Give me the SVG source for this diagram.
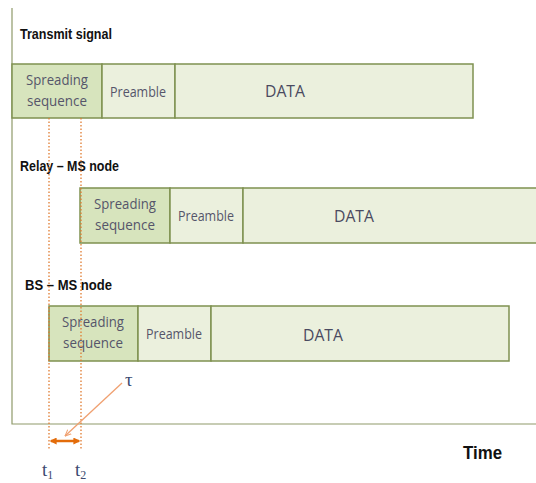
<svg xmlns="http://www.w3.org/2000/svg" width="536" height="483" viewBox="0 0 536 483">
<style>
.title{font-family:"Liberation Sans",Arial,sans-serif;font-weight:bold;font-size:15px;fill:#111}
.cell{stroke:#7f9150;stroke-width:1.5}
.ss{fill:#d7e4bd}
.pl{fill:#ebf0dd}
.lbl{font-family:"Open Sans","Noto Sans",sans-serif;font-size:14px;fill:#55556a;text-anchor:middle}
.data{font-family:"Open Sans","Noto Sans",sans-serif;font-size:17px;fill:#4a4a60;text-anchor:middle}
.dot{stroke:#e07b30;stroke-width:1.3;stroke-dasharray:1.5 2;fill:none}
.math{font-family:"Liberation Serif","DejaVu Serif",serif;font-size:19px;fill:#3c4a70}
</style>
<defs>
<marker id="ah" viewBox="0 0 10 10" refX="9" refY="5" markerWidth="7" markerHeight="7" orient="auto-start-reverse" markerUnits="userSpaceOnUse">
<path d="M0,1 L9,5 L0,9" fill="none" stroke="#f0a070" stroke-width="1.5"/>
</marker>
<marker id="dh" viewBox="0 0 10 10" refX="8" refY="5" markerWidth="7" markerHeight="7" orient="auto-start-reverse" markerUnits="userSpaceOnUse">
<path d="M0,0 L10,5 L0,10 Z" fill="#e36c0a"/>
</marker>
</defs>
<rect width="536" height="483" fill="#ffffff"/>
<g id="frame">
<path d="M12,8 V424 H536" fill="none" stroke="#8f9a6a" stroke-width="1.2"/>
</g>
<g id="transmit">
<text class="title" x="20" y="39" textLength="92" lengthAdjust="spacingAndGlyphs">Transmit signal</text>
<rect class="cell ss" x="12" y="64" width="90" height="54"/>
<rect class="cell pl" x="102" y="64" width="73" height="54"/>
<rect class="cell pl" x="175" y="64" width="298" height="54"/>
<text class="lbl" x="57" y="85" textLength="62" lengthAdjust="spacingAndGlyphs">Spreading</text>
<text class="lbl" x="57" y="106" textLength="60" lengthAdjust="spacingAndGlyphs">sequence</text>
<text class="lbl" x="138" y="97" textLength="56" lengthAdjust="spacingAndGlyphs">Preamble</text>
<text class="data" x="285" y="97" textLength="40" lengthAdjust="spacingAndGlyphs">DATA</text>
</g>
<g id="relay">
<text class="title" x="20" y="171" textLength="99" lengthAdjust="spacingAndGlyphs">Relay – MS node</text>
<rect class="cell ss" x="80" y="188" width="90" height="55"/>
<rect class="cell pl" x="170" y="188" width="73" height="55"/>
<rect class="cell pl" x="243" y="188" width="300" height="55"/>
<text class="lbl" x="125" y="209" textLength="62" lengthAdjust="spacingAndGlyphs">Spreading</text>
<text class="lbl" x="125" y="230" textLength="60" lengthAdjust="spacingAndGlyphs">sequence</text>
<text class="lbl" x="206" y="221" textLength="56" lengthAdjust="spacingAndGlyphs">Preamble</text>
<text class="data" x="354" y="222" textLength="40" lengthAdjust="spacingAndGlyphs">DATA</text>
</g>
<g id="bs">
<text class="title" x="25" y="290" textLength="87" lengthAdjust="spacingAndGlyphs">BS – MS node</text>
<rect class="cell ss" x="49" y="306" width="89" height="55"/>
<rect class="cell pl" x="138" y="306" width="73" height="55"/>
<rect class="cell pl" x="211" y="306" width="298" height="55"/>
<text class="lbl" x="93" y="327" textLength="62" lengthAdjust="spacingAndGlyphs">Spreading</text>
<text class="lbl" x="93" y="348" textLength="60" lengthAdjust="spacingAndGlyphs">sequence</text>
<text class="lbl" x="174" y="339" textLength="56" lengthAdjust="spacingAndGlyphs">Preamble</text>
<text class="data" x="323" y="341" textLength="40" lengthAdjust="spacingAndGlyphs">DATA</text>
</g>
<g id="connectors">
<line class="dot" x1="49" y1="118" x2="49" y2="449"/>
<line class="dot" x1="81" y1="118" x2="81" y2="449"/>
<line x1="122" y1="383" x2="65" y2="436" stroke="#f0a070" stroke-width="1.3" marker-end="url(#ah)"/>
<line x1="51" y1="441" x2="79" y2="441" stroke="#e36c0a" stroke-width="2.5" marker-start="url(#dh)" marker-end="url(#dh)"/>
</g>
<g id="labels">
<text class="math" x="125" y="386">τ</text>
<text class="math" x="42" y="476">t<tspan font-size="12" dy="3">1</tspan></text>
<text class="math" x="75" y="476">t<tspan font-size="12" dy="3">2</tspan></text>
<text class="title" x="463" y="459" style="font-size:18px" textLength="39" lengthAdjust="spacingAndGlyphs">Time</text>
</g>
</svg>
